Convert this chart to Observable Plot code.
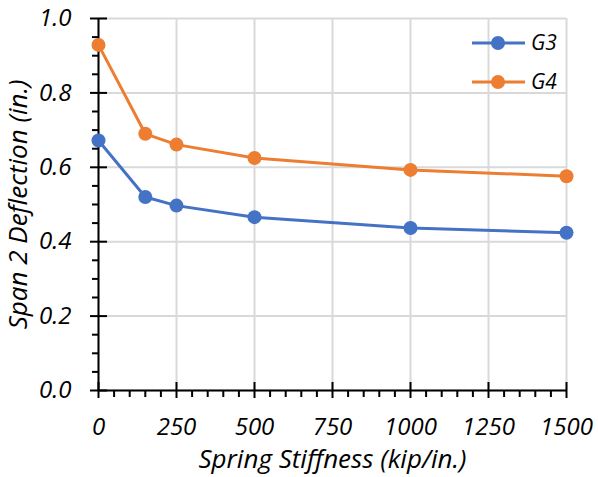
<!DOCTYPE html>
<html>
<head>
<meta charset="utf-8">
<script src="https://cdn.jsdelivr.net/npm/d3@7"></script>
<script src="https://cdn.jsdelivr.net/npm/@observablehq/plot@0.6"></script>
<style>
  body { margin: 0; background: #fff; }
  #wrap { position: relative; width: 598px; height: 477px; }
  #legend { position: absolute; left: 465px; top: 25px; }
</style>
</head>
<body>
<div id="wrap"></div>
<script>
// ---- data ----
const stiffness = [0, 150, 250, 500, 1000, 1500];
const g3 = [0.672, 0.520, 0.497, 0.466, 0.437, 0.424];
const g4 = [0.929, 0.690, 0.661, 0.625, 0.593, 0.576];
const seriesNames = ["G3", "G4"];
const seriesColors = ["#4472C4", "#ED7D31"];
const xTicks = [0, 250, 500, 750, 1000, 1250, 1500];
const xMinorTicks = [50, 100, 150, 200, 300, 350, 400, 450, 550, 600, 650, 700, 800, 850, 900, 950, 1050, 1100, 1150, 1200, 1300, 1350, 1400, 1450];
const yTicks = [0, 0.2, 0.4, 0.6, 0.8, 1.0];
const yMinorTicks = [0.05, 0.1, 0.15, 0.25, 0.3, 0.35, 0.45, 0.5, 0.55, 0.65, 0.7, 0.75, 0.85, 0.9, 0.95];
const xTitle = "Spring Stiffness (kip/in.)";
const yTitle = "Span 2 Deflection (in.)";

const seriesValues = [g3, g4];
const data = seriesNames.flatMap((name, s) =>
  stiffness.map((x, i) => ({ x, y: seriesValues[s][i], series: name }))
);

const font = "'Open Sans', sans-serif";
const tickFs = 24;
const titleFs = 26;
const legendFs = 21;

const chart = Plot.plot({
  width: 598,
  height: 477,
  marginLeft: 98,
  marginRight: 32,
  marginTop: 18,
  marginBottom: 87,
  x: { domain: [0, 1500] },
  y: { domain: [0, 1] },
  color: { domain: seriesNames, range: seriesColors },
  style: { fontFamily: font, fontStyle: "italic", fontSize: tickFs + "px", color: "#000", background: "#fff", overflow: "visible" },
  marks: [
    Plot.gridX(xTicks, { stroke: "#d9d9d9", strokeOpacity: 1, strokeWidth: 2 }),
    Plot.gridY(yTicks, { stroke: "#d9d9d9", strokeOpacity: 1, strokeWidth: 2 }),
    Plot.ruleX([0], { stroke: "#000", strokeWidth: 2 }),
    Plot.ruleY([0], { stroke: "#000", strokeWidth: 2 }),
    // major ticks (crossing the axis)
    Plot.axisX(xTicks, { tickSize: 16, dy: -8, text: null, label: null, stroke: "#000", strokeWidth: 2 }),
    Plot.axisY(yTicks, { tickSize: 17, dx: 9, text: null, label: null, stroke: "#000", strokeWidth: 2 }),
    // minor ticks
    Plot.axisX(xMinorTicks, { tickSize: 7, text: null, label: null, stroke: "#000", strokeWidth: 2 }),
    Plot.axisY(yMinorTicks, { tickSize: 6, text: null, label: null, stroke: "#000", strokeWidth: 2 }),
    // labels
    Plot.axisX(xTicks, { tickSize: 0, tickPadding: 27, label: null, fontSize: tickFs, fontStyle: "italic", tickFormat: d3.format("d") }),
    Plot.axisY(yTicks, { tickSize: 0, tickPadding: 27, label: null, fontSize: tickFs, fontStyle: "italic", tickFormat: d3.format(".1f") }),
    Plot.text([xTitle], { frameAnchor: "bottom", textAnchor: "middle", dy: 69, lineAnchor: "middle", fontSize: titleFs, fontStyle: "italic" }),
    Plot.text([yTitle], { frameAnchor: "left", textAnchor: "middle", rotate: -90, dx: -80, dy: 0, lineAnchor: "middle", fontSize: titleFs, fontStyle: "italic" }),
    // series
    Plot.line(data, { x: "x", y: "y", stroke: "series", strokeWidth: 3 }),
    Plot.dot(data, { x: "x", y: "y", fill: "series", r: 7 })
  ]
});

const wrap = document.getElementById("wrap");
wrap.appendChild(chart);

// legend
const legend = d3.select(wrap).append("svg")
  .attr("id", "legend").attr("width", 125).attr("height", 80);
seriesNames.forEach((name, i) => {
  const cy = 18 + i * 39;
  const g = legend.append("g");
  g.append("line").attr("x1", 7).attr("x2", 60).attr("y1", cy).attr("y2", cy)
    .attr("stroke", seriesColors[i]).attr("stroke-width", 3);
  g.append("circle").attr("cx", 33).attr("cy", cy).attr("r", 7).attr("fill", seriesColors[i]);
  g.append("text").attr("x", 66).attr("y", cy).attr("dy", "0.35em")
    .attr("font-family", font).attr("font-style", "italic").attr("font-size", legendFs)
    .text(name);
});
</script>
</body>
</html>
